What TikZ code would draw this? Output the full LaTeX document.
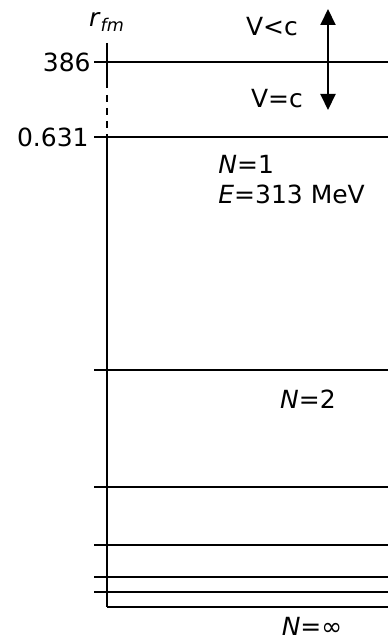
\documentclass[tikz,border=0pt]{standalone}
\usepackage{fontspec}
\setmainfont{DejaVu Sans}
\usepackage{tikz}
\usetikzlibrary{arrows.meta,positioning}
\tikzset{
    every node/.style={font=\fontsize{12.5}{15}\selectfont,inner sep=0pt},
    level/.style={line width=1pt},
    axisline/.style={line width=1pt},
    velarrow/.style={line width=1pt,{Triangle[length=8pt,width=7.5pt]}-{Triangle[length=8pt,width=7.5pt]}},
    lvlabel/.style={anchor=east}
}
\begin{document}
\begin{tikzpicture}[x=0.5pt,y=-0.5pt]
\useasboundingbox (0,0) rectangle (388,642);
% axis
\coordinate (ax0) at (107,43);
\coordinate (ax1) at (107,86);
\coordinate (ax2) at (107,137);
\coordinate (ax3) at (107,607);
\draw[axisline] (ax0) -- (ax1);
\draw[axisline,dash pattern=on 1pt off 3.5pt on 3.5pt off 3pt on 3.5pt off 3pt on 3.5pt off 3pt] (ax1) -- (ax2);
\draw[axisline] (ax2) -- (ax3);
\node (rfm) at (107,22) {\textit{r}\textsubscript{\textit{fm}}};
% levels
\foreach \n/\y in {a/62,b/137,c/370,d/487,e/545,f/577,g/592}{
    \coordinate (\n l) at (94,\y);
    \coordinate (\n r) at (388,\y);
    \draw[level] (\n l) -- (\n r);
}
\coordinate (hl) at (107,607);
\coordinate (hr) at (388,607);
\draw[level] (hl) -- (hr);
\node[lvlabel] (l386) at (91,62) {386};
\node[lvlabel] (l631) at (89,137) {0.631};
% velocity
\coordinate (vtop) at (328,9);
\coordinate (vbot) at (328,110);
\draw[velarrow] (vtop) -- (vbot);
\node (vlt) at (272,27) {V<c};
\node (veq) at (277,99) {V=c};
% states
\node[anchor=west,align=left] (n1) at (218,180) {\textit{N}=1\\\textit{E}=313 MeV};
\node (n2) at (308,399) {\textit{N}=2};
\node (ninf) at (312,626) {\textit{N}=∞};
\end{tikzpicture}
\end{document}
